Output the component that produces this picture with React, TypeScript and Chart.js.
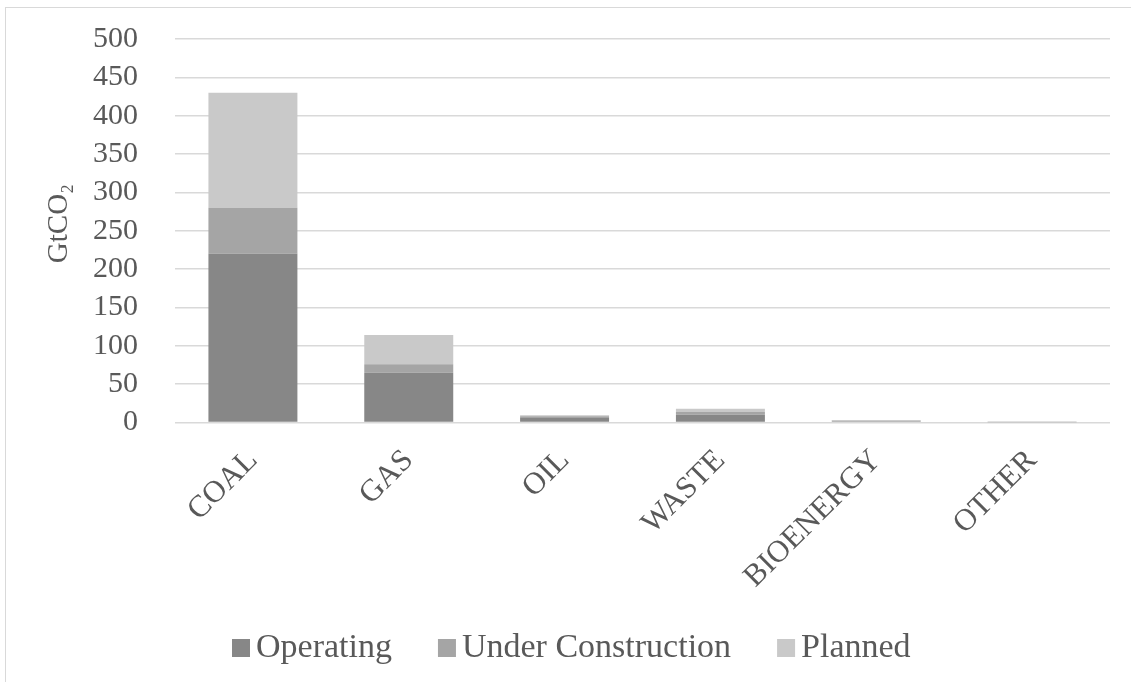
import React, { useEffect, useRef } from "react";
import { Chart, registerables } from "chart.js";

Chart.register(...registerables);

// Committed emissions by fuel type (GtCO2)
const categories = ["COAL", "GAS", "OIL", "WASTE", "BIOENERGY", "OTHER"];
const operating = [220, 65, 6, 10, 1, 0.3];
const underConstruction = [60, 11, 2, 4, 1.5, 0.1];
const planned = [150, 38, 1.5, 4, 0.5, 0.1];

const seriesNames = ["Operating", "Under Construction", "Planned"];
const seriesColors = ["#878787", "#a5a5a5", "#c9c9c9"];

const yMin = 0;
const yMax = 500;
const yStep = 50;
const yTitle = "\u00a0\u00a0GtCO\u2082";

const FONT = '"Liberation Serif", "Times New Roman", serif';
const TEXT = "#595959";
const GRID = "#d9d9d9";

// Legend drawn in a single row under the rotated category labels
const bottomLegend = {
  id: "bottomLegend",
  afterDraw(chart: any) {
    const ctx = chart.ctx as CanvasRenderingContext2D;
    const box = 18;
    const baseline = 657;
    let x = 232;
    ctx.save();
    ctx.font = `34px ${FONT}`;
    ctx.textBaseline = "alphabetic";
    ctx.textAlign = "left";
    chart.data.datasets.forEach((ds: any) => {
      ctx.fillStyle = ds.backgroundColor;
      ctx.fillRect(x, baseline - box, box, box);
      x += box + 6;
      ctx.fillStyle = TEXT;
      ctx.fillText(ds.label, x, baseline);
      x += ctx.measureText(ds.label).width + 46;
    });
    ctx.restore();
  },
};

export default function App() {
  const canvasRef = useRef<HTMLCanvasElement | null>(null);

  useEffect(() => {
    if (!canvasRef.current) return;
    const values = [operating, underConstruction, planned];
    const chart = new Chart(canvasRef.current, {
      type: "bar",
      data: {
        labels: categories,
        datasets: seriesNames.map((name, i) => ({
          label: name,
          data: values[i],
          backgroundColor: seriesColors[i],
          borderWidth: 0,
          categoryPercentage: 1,
          barPercentage: 0.571,
        })),
      },
      options: {
        animation: false,
        responsive: true,
        maintainAspectRatio: false,
        layout: { padding: { top: 39, right: 21, left: 0, bottom: 0 } },
        plugins: {
          legend: { display: false },
          tooltip: { enabled: false },
        },
        scales: {
          x: {
            stacked: true,
            grid: { display: false, drawTicks: false },
            border: { display: false },
            ticks: {
              color: TEXT,
              font: { family: FONT, size: 31 },
              maxRotation: 45,
              minRotation: 45,
              padding: 20,
              autoSkip: false,
            },
            afterFit: (scale: any) => {
              scale.height = 259.5;
            },
          },
          y: {
            stacked: true,
            min: yMin,
            max: yMax,
            ticks: {
              stepSize: yStep,
              autoSkip: false,
              color: TEXT,
              font: { family: FONT, size: 30 },
              padding: 37,
            },
            grid: { color: GRID, lineWidth: 1.5, drawTicks: false },
            border: { display: false },
            title: {
              display: true,
              text: yTitle,
              color: TEXT,
              font: { family: FONT, size: 29 },
              padding: { top: 42, bottom: 0 },
            },
            afterFit: (scale: any) => {
              // fixed axis width; tick labels may overhang the plot edges
              scale.width = 175;
              scale.paddingTop = 0;
              scale.paddingBottom = 0;
            },
          },
        },
      },
      plugins: [bottomLegend],
    });
    return () => chart.destroy();
  }, []);

  return (
    <div
      style={{
        position: "fixed",
        left: 0,
        top: 0,
        width: 1131,
        height: 682,
        background: "#ffffff",
        overflow: "hidden",
      }}
    >
      <div
        style={{
          position: "absolute",
          left: 5,
          top: 7,
          right: -10,
          bottom: -10,
          borderLeft: `1.5px solid ${GRID}`,
          borderTop: `1.5px solid ${GRID}`,
        }}
      />
      <canvas
        ref={canvasRef}
        style={{ position: "absolute", left: 0, top: 0 }}
      />
    </div>
  );
}
